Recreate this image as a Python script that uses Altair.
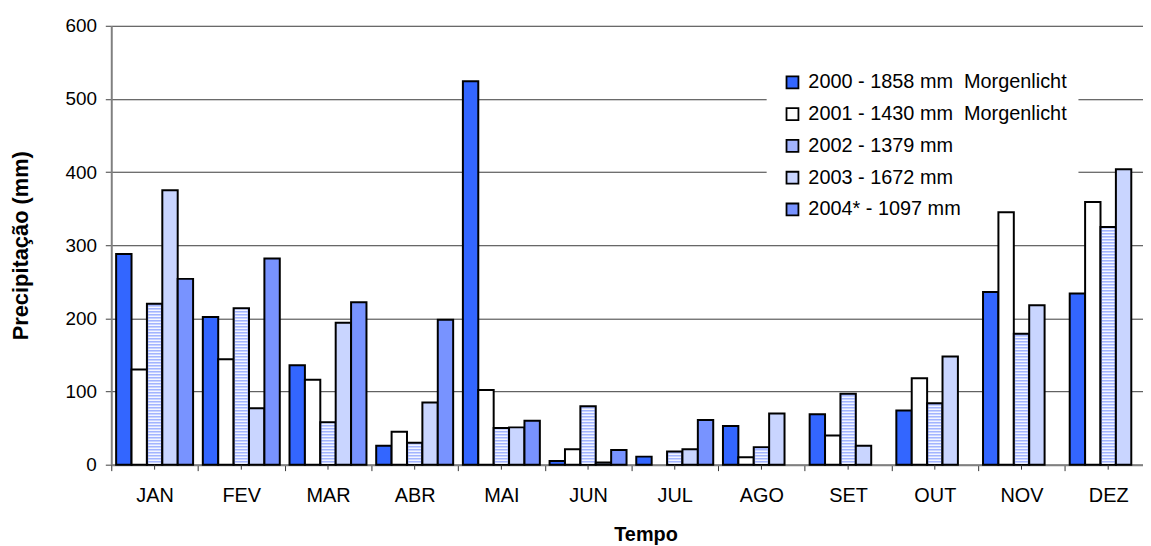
import altair as alt
import pandas as pd

FONT = "Liberation Sans"

months = ["JAN", "FEV", "MAR", "ABR", "MAI", "JUN", "JUL", "AGO", "SET", "OUT", "NOV", "DEZ"]
series = [
    "2000 - 1858 mm \u00a0Morgenlicht",
    "2001 - 1430 mm \u00a0Morgenlicht",
    "2002 - 1379 mm",
    "2003 - 1672 mm",
    "2004* - 1097 mm",
]
v2000 = [288, 202, 136, 26, 524, 5, 11, 53, 69, 74, 236, 234]
v2001 = [130, 144, 116, 45, 102, 21, None, 10, 40, 118, 345, 359]
v2002 = [220, 214, 58, 30, 50, 80, 18, 24, 97, 84, 179, 325]
v2003 = [375, 77, 194, 85, 51, 3, 21, 70, 26, 148, 218, 404]
v2004 = [254, 282, 222, 198, 60, 20, 61, None, None, None, None, None]
colors = ["#3366FF", "#FFFFFF", "#A2B4FF", "#C9D5FF", "#7893FF"]
y_ticks = [0, 100, 200, 300, 400, 500, 600]

rows = []
for s, vals in zip(series, [v2000, v2001, v2002, v2003, v2004]):
    for m, v in zip(months, vals):
        if v is not None:
            rows.append({"month": m, "serie": s, "value": v})
df = pd.DataFrame(rows)
mdf = pd.DataFrame({"month": months})

W = 1039
H = 442
BAND = 87.3

xscale = alt.Scale(domain=months, range=[0, 12 * BAND], paddingInner=0, paddingOuter=0)
offscale = alt.Scale(domain=series, paddingInner=0, paddingOuter=0.316)
yscale = alt.Scale(domain=[0, 600], nice=False)

xaxis = alt.Axis(
    title="Tempo", titleFont=FONT, titleFontSize=20, titleFontWeight="bold", titleColor="black",
    titleX=538, titleY=76, titleAlign="center", titleBaseline="alphabetic",
    labelFont=FONT, labelFontSize=20, labelColor="black", labelAngle=0, labelPadding=15,
    tickBand="extent", tickSize=6, tickColor="#333333", tickWidth=1,
    domainColor="#808080", domainWidth=2, grid=False,
)
yaxis = alt.Axis(
    values=y_ticks, format="d",
    title="Precipitação (mm)", titleFont=FONT, titleFontSize=22, titleFontWeight="bold", titleColor="black",
    titleAngle=270, titleX=-84, titleY=H / 2, titleAlign="center", titleBaseline="alphabetic",
    labelFont=FONT, labelFontSize=19, labelColor="black", labelPadding=9,
    tickSize=6, tickColor="#404040", tickWidth=1,
    domainColor="#808080", domainWidth=2,
    grid=True, gridColor="#3a3a3a", gridWidth=1,
)

X = alt.X("month:N", scale=xscale, sort=months, axis=xaxis)
XO = alt.XOffset("serie:N", scale=offscale, sort=series)

# white box behind the legend (hides the grid lines, stays under the bars)
legend_box = alt.Chart(pd.DataFrame({"k": [0]})).mark_rect(color="white").encode(
    x=alt.value(660), x2=alt.value(974), y=alt.value(40), y2=alt.value(210)
)

bars = alt.Chart(df).mark_bar(stroke="black", strokeWidth=2).encode(
    x=X,
    xOffset=XO,
    y=alt.Y("value:Q", scale=yscale, axis=yaxis),
    fill=alt.Fill(
        "serie:N", scale=alt.Scale(domain=series, range=colors), sort=series,
        legend=alt.Legend(
            title=None, orient="none", legendX=660, legendY=31, padding=16,
            symbolType="square", symbolSize=144, symbolStrokeColor="black", symbolStrokeWidth=1.8,
            symbolOpacity=1, labelFont=FONT, labelFontSize=20, labelColor="black",
            labelOffset=6, rowPadding=12, labelLimit=400,
        ),
    ),
)

stripes = (
    alt.Chart(df)
    .transform_filter(alt.datum.serie == series[2])
    .transform_calculate(s="sequence(2, datum.value - 1.5, 4.1)")
    .transform_flatten(["s"])
    .mark_tick(orient="horizontal", thickness=1.3, size=12.5, color="white", opacity=1)
    .encode(x=X, xOffset=XO, y=alt.Y("s:Q", scale=yscale, axis=yaxis))
)

center_ticks = alt.Chart(mdf).mark_rule(color="#333333", strokeWidth=1).encode(
    x=alt.X("month:N", scale=xscale, sort=months, axis=xaxis),
    y=alt.value(H),
    y2=alt.value(H + 5),
)

chart = (
    alt.layer(legend_box, bars, stripes, center_ticks)
    .properties(
        width=W, height=H,
        autosize=alt.AutoSizeParams(type="none"),
        padding={"left": 104, "top": 16, "right": 0, "bottom": 80},
    )
    .configure_view(strokeWidth=0)
)

chart.save("out.html", embed_options={"renderer": "svg", "actions": False})
